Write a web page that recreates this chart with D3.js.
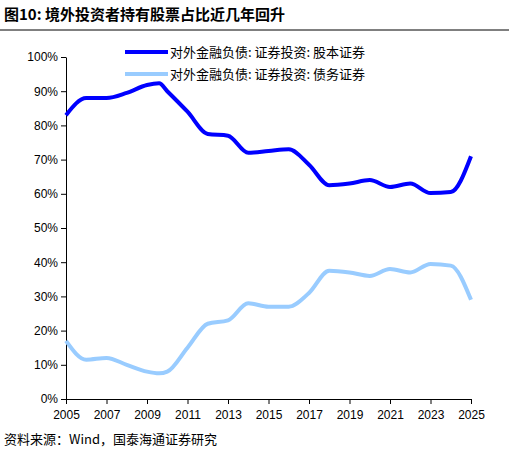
<!DOCTYPE html><html><head><meta charset="utf-8"><script src="https://cdn.jsdelivr.net/npm/d3@7"></script>
<style>body{margin:0;background:#fff}</style></head><body><svg id="c" width="509" height="453"></svg>
<script>
const years=[2005,2006,2007,2008,2009,2009.6,2010,2011,2012,2013,2014,2015,2016,2017,2018,2019,2020,2021,2022,2023,2024,2025];
const equity=[83,88,88,89.5,91.8,92.3,90,84,77.5,77,72,72.5,73,68.5,62.5,63,64,62,63,60.2,60.5,71];
const debt=[17,11.5,12,10,8,7.5,8,15,22,23,28,27,27,31,37.5,37,36,38,37,39.5,39,29];
const xTicks=[2005,2007,2009,2011,2013,2015,2017,2019,2021,2023,2025];
const yTicks=[0,10,20,30,40,50,60,70,80,90,100];
const names=["对外金融负债: 证券投资: 股本证券","对外金融负债: 证券投资: 债务证券"];
const colors=["#0000ff","#99ccff"];
const svg=d3.select("#c"),F="'Noto Sans CJK SC',sans-serif";
svg.append("text").attr("x",4).attr("y",20).attr("font-family",F).attr("font-weight","bold").attr("font-size",15).text("图10:  境外投资者持有股票占比近几年回升");
svg.append("line").attr("x1",0).attr("x2",509).attr("y1",30).attr("y2",30).attr("stroke","#000").attr("stroke-width",1);
const x=d3.scaleLinear().domain([2005,2025]).range([66,471]);
const y=d3.scaleLinear().domain([0,100]).range([399,57]);
const gx=svg.append("g").attr("transform","translate(0,399)").call(d3.axisBottom(x).tickValues(xTicks).tickFormat(d3.format("d")).tickSizeInner(5).tickSizeOuter(0));
const gy=svg.append("g").attr("transform","translate(66,0)").call(d3.axisLeft(y).tickValues(yTicks).tickFormat(d=>d+"%").tickSizeInner(5).tickSizeOuter(0));
[gx,gy].forEach(g=>g.selectAll("text").attr("font-family","Arial,'Liberation Sans'").attr("font-size",12).attr("fill","#000"));
gx.selectAll("text").attr("dy","1.0em");
const line=d3.line().x((d,i)=>x(years[i])).y(d=>y(d)).curve(d3.curveMonotoneX);
[equity,debt].forEach((s,k)=>svg.append("path").attr("d",line(s)).attr("fill","none").attr("stroke",colors[k]).attr("stroke-width",4));
names.forEach((n,k)=>{const yy=52+k*22;
svg.append("line").attr("x1",125).attr("x2",168).attr("y1",yy).attr("y2",yy).attr("stroke",colors[k]).attr("stroke-width",4);
svg.append("text").attr("x",170).attr("y",yy+5).attr("font-family",F).attr("font-size",13).text(n);});
svg.append("text").attr("x",4).attr("y",444).attr("font-family",F).attr("font-size",13).text("资料来源：Wind，国泰海通证券研究");
</script></body></html>
